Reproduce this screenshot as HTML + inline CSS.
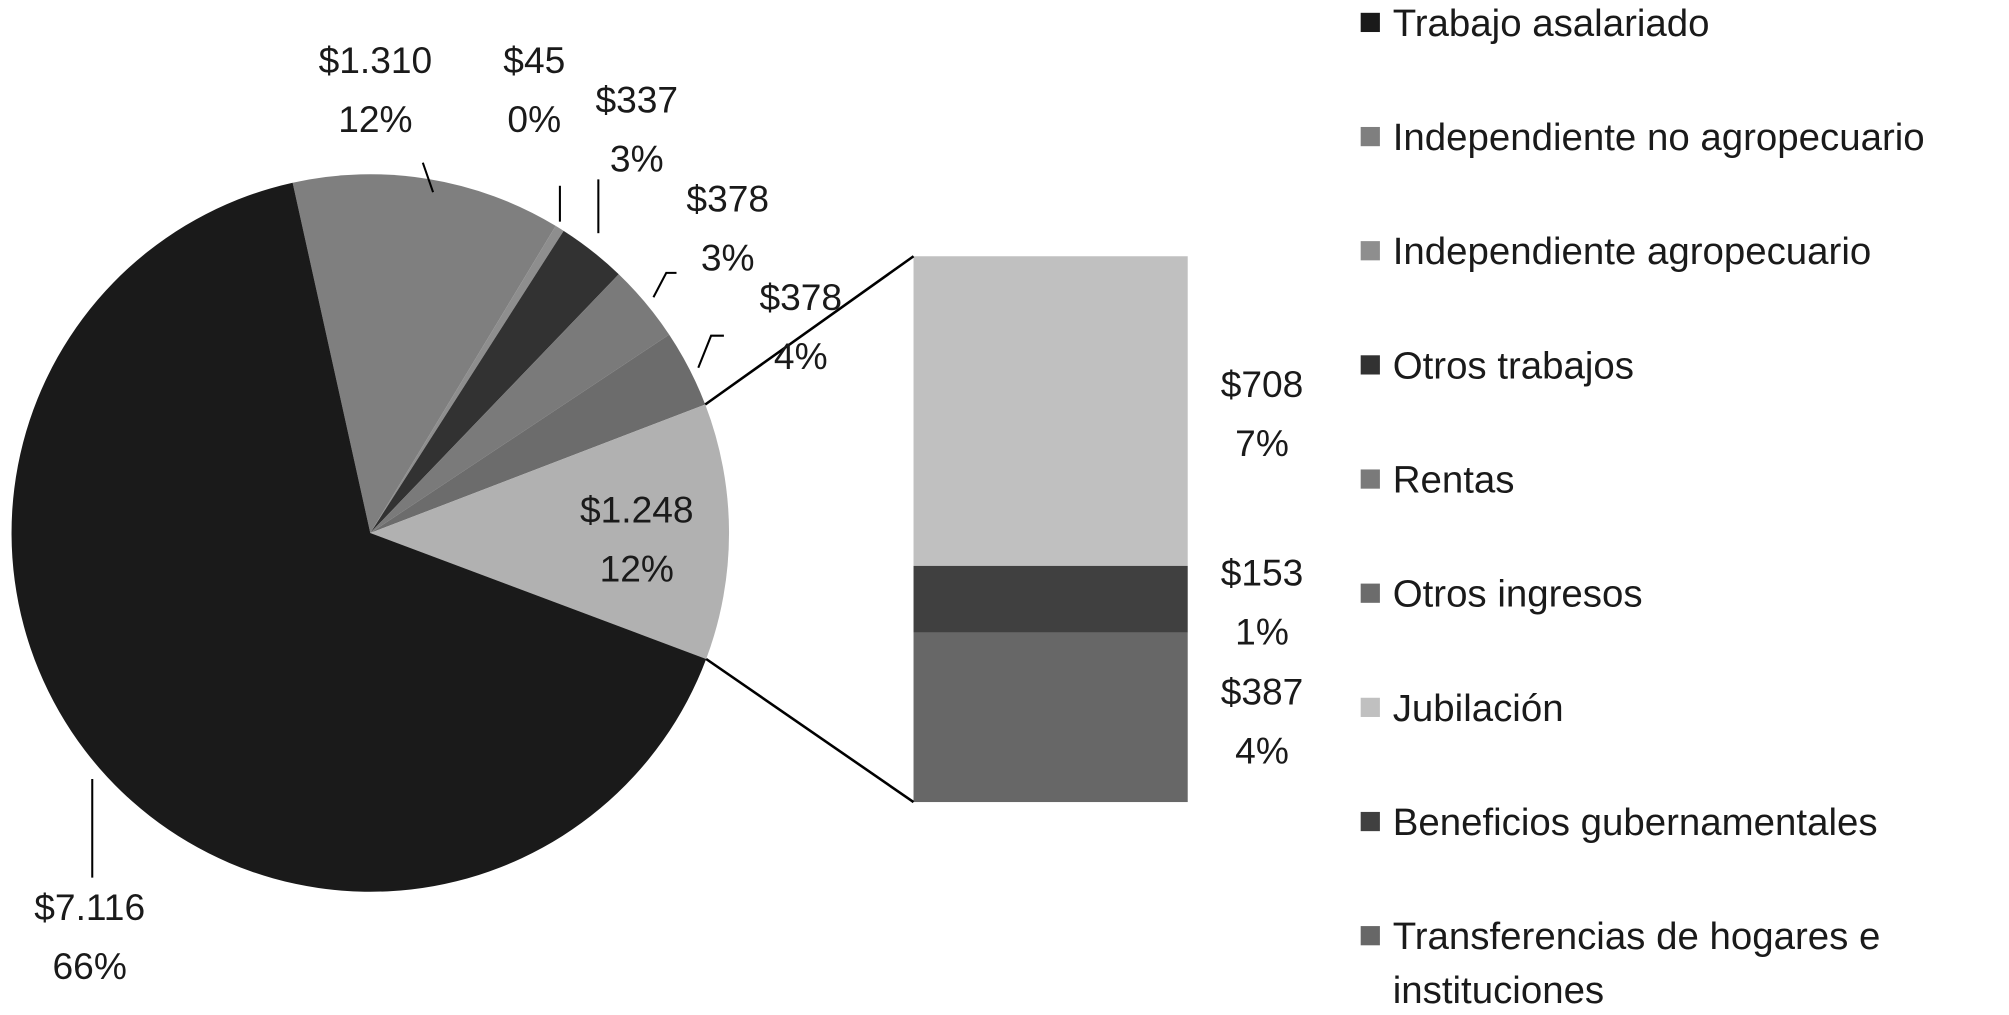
<!DOCTYPE html>
<html><head><meta charset="utf-8"><style>
html,body{margin:0;padding:0;background:#fff;}
svg{display:block;font-family:"Liberation Sans",sans-serif;}
</style></head><body>
<svg id="chart" width="2009" height="1015" viewBox="0 0 1568 792.2" xmlns="http://www.w3.org/2000/svg">
<g id="pie"></g>
<g id="bar"></g>
<g id="connectors"></g>
<g id="labels"></g>
<g id="legend"></g>
</svg>
<script>
const pieCategories = ["Trabajo asalariado","Independiente no agropecuario","Independiente agropecuario","Otros trabajos","Rentas","Otros ingresos","Otros"];
const pieValues = [7116,1310,45,337,378,378,1248];
const pieValueLabels = ["$7.116","$1.310","$45","$337","$378","$378","$1.248"];
const piePctLabels = ["66%","12%","0%","3%","3%","4%","12%"];
const barCategories = ["Jubilación","Beneficios gubernamentales","Transferencias de hogares e instituciones"];
const barValues = [708,153,387];
const barValueLabels = ["$708","$153","$387"];
const barPctLabels = ["7%","1%","4%"];
const legendLabels = ["Trabajo asalariado","Independiente no agropecuario","Independiente agropecuario","Otros trabajos","Rentas","Otros ingresos","Jubilación","Beneficios gubernamentales","Transferencias de hogares e"];

const NS="http://www.w3.org/2000/svg";
function mk(tag,attrs,parent){const e=document.createElementNS(NS,tag);for(const k in attrs)e.setAttribute(k,attrs[k]);parent.appendChild(e);return e;}
const pieColors=["#1a1a1a","#7f7f7f","#8e8e8e","#323232","#7a7a7a","#6c6c6c","#b1b1b1"];
const barColors=["#c0c0c0","#404040","#676767"];
const cx=289,cy=416,r=280,startDeg=-12.5;
const FS=29, LFS=30;
const total=pieValues.reduce((a,b)=>a+b,0);
function pt(deg,rad){const a=deg*Math.PI/180;return [cx+rad*Math.sin(a),cy-rad*Math.cos(a)];}
const pieG=document.getElementById('pie');
const order=[1,2,3,4,5,6,0];
let ang=startDeg;const angles={};
order.forEach(i=>{const sw=pieValues[i]/total*360;angles[i]=[ang,ang+sw];ang+=sw;});
order.forEach(i=>{
  const [a0,a1]=angles[i];const p0=pt(a0,r),p1=pt(a1,r);
  const large=(a1-a0)>180?1:0;
  const p=mk('path',{d:`M${cx},${cy}L${p0[0]},${p0[1]}A${r},${r} 0 ${large} 1 ${p1[0]},${p1[1]}Z`,fill:pieColors[i]},pieG);
  
  
});
const bx=713,bw=214,btop=200,bh=426;
const barG=document.getElementById('bar');
const barTotal=barValues.reduce((a,b)=>a+b,0);
let by=btop;
barValues.forEach((v,i)=>{const h=v/barTotal*bh;
  const rc=mk('rect',{x:bx,y:by,width:bw,height:h,fill:barColors[i]},barG);
  
  
  by+=h;});
const cG=document.getElementById('connectors');
const o=angles[6];const q0=pt(o[0],r),q1=pt(o[1],r);
mk('line',{x1:q0[0],y1:q0[1],x2:bx,y2:btop,stroke:"#000","stroke-width":2},cG);
mk('line',{x1:q1[0],y1:q1[1],x2:bx,y2:btop+bh,stroke:"#000","stroke-width":2},cG);
const lG=document.getElementById('labels');
const labelPos=[[70,708],[293,47],[417,47],[497,78],[568,155],[625,232],[497,398]];
const leaders=["M72,608L72,685","M330,127L338,150","M437,145L437,173","M467,140L467,182","M510,232L520,213L528,213","M545,287L555,262L565,262"];
labelPos.forEach((p,i)=>{
  const t1=mk('text',{x:p[0],y:p[1]+10,"text-anchor":"middle","font-size":FS,fill:"#1a1a1a"},lG);t1.textContent=pieValueLabels[i];
  
  
  const t2=mk('text',{x:p[0],y:p[1]+56,"text-anchor":"middle","font-size":FS,fill:"#1a1a1a"},lG);t2.textContent=piePctLabels[i];
  
  
});
leaders.forEach(d=>{mk('path',{d:d,stroke:"#000","stroke-width":1.6,fill:"none"},lG);});
const barLabY=[300,447,540];
barValueLabels.forEach((v,i)=>{
  const t1=mk('text',{x:985,y:barLabY[i]+10,"text-anchor":"middle","font-size":FS,fill:"#1a1a1a"},lG);t1.textContent=v;
  
  
  const t2=mk('text',{x:985,y:barLabY[i]+56,"text-anchor":"middle","font-size":FS,fill:"#1a1a1a"},lG);t2.textContent=barPctLabels[i];
  
  
});
const legG=document.getElementById('legend');
const legColors=[pieColors[0],pieColors[1],pieColors[2],pieColors[3],pieColors[4],pieColors[5],barColors[0],barColors[1],barColors[2]];
legendLabels.forEach((l,i)=>{
  const y=18+i*89.1;
  const s=mk('rect',{x:1062,y:y-8,width:15,height:15,fill:legColors[i]},legG);
  
  
  const t=mk('text',{x:1087,y:y+10,"font-size":LFS,fill:"#1a1a1a"},legG);t.textContent=l;
  
  
});
const t=mk('text',{x:1087,y:18+8*89.1+52,"font-size":LFS,fill:"#1a1a1a"},legG);t.textContent="instituciones";


</script>
</body></html>
